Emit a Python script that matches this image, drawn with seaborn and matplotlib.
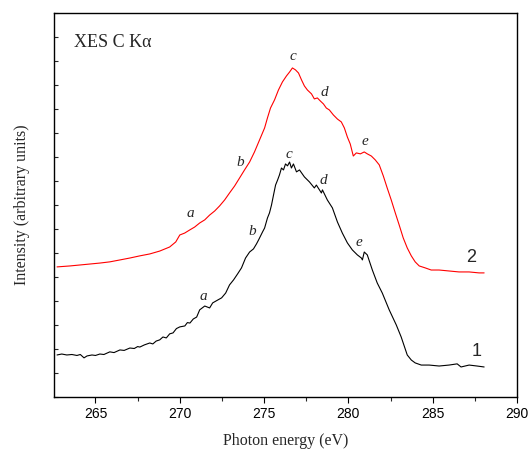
import numpy as np
import pandas as pd
import matplotlib
matplotlib.use("Agg")
import matplotlib.pyplot as plt
import seaborn as sns
from matplotlib.ticker import MultipleLocator

# 曲线 1（黑）：光子能量 / 强度
energy_1 = [262.72, 263.00, 263.30, 263.60, 263.90, 264.10, 264.32, 264.50, 264.79, 265.00,
            265.26, 265.50, 265.85, 266.10, 266.45, 266.70, 267.04, 267.30, 267.50, 267.63,
            267.90, 268.22, 268.40, 268.60, 268.81, 269.00, 269.20, 269.40, 269.60, 269.80,
            270.00, 270.30, 270.45, 270.60, 270.80, 271.00, 271.18, 271.48, 271.77, 271.95,
            272.25, 272.48, 272.72, 272.95, 273.19, 273.43, 273.66, 273.90, 274.14, 274.37,
            274.55, 274.67, 274.79, 274.91, 275.03, 275.20, 275.32, 275.44, 275.56, 275.68,
            275.80, 275.91, 276.03, 276.15, 276.27, 276.39, 276.51, 276.62, 276.74, 276.92,
            277.10, 277.39, 277.69, 277.98, 278.10, 278.40, 278.46, 278.75, 279.05, 279.35,
            279.64, 279.94, 280.23, 280.53, 280.77, 280.83, 280.94, 281.12, 281.42, 281.71,
            282.01, 282.42, 282.84, 283.13, 283.49, 283.73, 283.96, 284.32, 284.79, 285.38,
            285.97, 286.45, 286.68, 287.16, 287.63, 288.05]
intensity_1 = [1.75, 1.79, 1.75, 1.77, 1.73, 1.77, 1.63, 1.71, 1.75, 1.73,
               1.79, 1.77, 1.88, 1.85, 1.96, 1.94, 2.04, 2.02, 2.10, 2.08,
               2.17, 2.25, 2.21, 2.33, 2.38, 2.50, 2.46, 2.63, 2.67, 2.85,
               2.92, 2.96, 3.10, 3.08, 3.25, 3.33, 3.63, 3.79, 3.71, 3.92,
               4.04, 4.13, 4.33, 4.67, 4.88, 5.13, 5.38, 5.79, 6.04, 6.17,
               6.38, 6.54, 6.71, 6.88, 7.04, 7.46, 7.67, 8.00, 8.42, 8.83,
               9.04, 9.25, 9.54, 9.46, 9.71, 9.63, 9.79, 9.54, 9.71, 9.38,
               9.46, 9.17, 8.96, 8.71, 8.83, 8.50, 8.63, 8.21, 7.88, 7.29,
               6.83, 6.42, 6.13, 5.92, 5.79, 5.71, 6.04, 5.92, 5.29, 4.75,
               4.33, 3.63, 3.00, 2.50, 1.75, 1.54, 1.42, 1.33, 1.33, 1.29,
               1.33, 1.38, 1.25, 1.33, 1.29, 1.25]

# 曲线 2（红）
energy_2 = [262.72, 263.49, 264.08, 264.67, 265.26, 265.85, 266.45, 267.04, 267.63, 268.22,
            268.81, 269.40, 269.76, 270.00, 270.29, 270.59, 270.88, 271.18, 271.48, 271.77,
            272.07, 272.36, 272.66, 272.95, 273.25, 273.55, 273.84, 274.14, 274.43, 274.73,
            275.03, 275.20, 275.38, 275.62, 275.85, 276.09, 276.33, 276.51, 276.68, 276.86,
            277.04, 277.22, 277.39, 277.57, 277.81, 277.98, 278.16, 278.34, 278.52, 278.69,
            278.87, 279.11, 279.35, 279.58, 279.76, 279.94, 280.11, 280.29, 280.47, 280.71,
            280.94, 281.12, 281.36, 281.59, 281.83, 282.07, 282.30, 282.54, 282.78, 283.01,
            283.25, 283.49, 283.73, 283.96, 284.20, 284.55, 284.91, 285.38, 285.97, 286.56,
            287.16, 287.75, 288.05]
intensity_2 = [5.42, 5.46, 5.50, 5.54, 5.58, 5.63, 5.71, 5.79, 5.88, 5.96,
               6.08, 6.25, 6.46, 6.75, 6.83, 6.96, 7.08, 7.25, 7.38, 7.58,
               7.75, 7.96, 8.21, 8.50, 8.79, 9.13, 9.46, 9.79, 10.21, 10.71,
               11.21, 11.63, 12.04, 12.38, 12.79, 13.13, 13.38, 13.54, 13.71, 13.63,
               13.50, 13.21, 12.96, 12.79, 12.63, 12.42, 12.46, 12.33, 12.21, 12.04,
               11.96, 11.75, 11.58, 11.46, 11.21, 10.83, 10.54, 10.04, 10.17, 10.13,
               10.21, 10.13, 10.04, 9.88, 9.67, 9.21, 8.71, 8.21, 7.67, 7.17,
               6.63, 6.21, 5.88, 5.63, 5.46, 5.38, 5.29, 5.29, 5.25, 5.21,
               5.21, 5.17, 5.17]

# 峰标记 a-e
peak_names = ['a', 'b', 'c', 'd', 'e']
peak_x_1 = [271.4, 274.3, 276.5, 278.5, 280.6]
peak_y_1 = [4.2, 6.9, 10.1, 9.0, 6.45]
peak_x_2 = [270.65, 273.6, 276.7, 278.6, 281.0]
peak_y_2 = [7.65, 9.75, 14.2, 12.7, 10.65]

sns.set_theme(style="ticks")
plt.rcParams['font.family'] = ['Liberation Sans', 'DejaVu Sans']

fig = plt.figure(figsize=(5.3, 4.54), dpi=100)
ax = fig.add_axes([0.1019, 0.1256, 0.8736, 0.8458])

df1 = pd.DataFrame({'energy': energy_1, 'intensity': intensity_1})
df2 = pd.DataFrame({'energy': energy_2, 'intensity': intensity_2})
sns.lineplot(data=df1, x='energy', y='intensity', color='black', linewidth=0.8, ax=ax)
sns.lineplot(data=df2, x='energy', y='intensity', color='#ff0000', linewidth=0.8, ax=ax)

ax.set_xlim(262.54, 290)
ax.set_ylim(0, 16)
ax.xaxis.set_major_locator(MultipleLocator(5))
ax.xaxis.set_minor_locator(MultipleLocator(2.5))
ax.yaxis.set_major_locator(MultipleLocator(1))
ax.set_yticklabels([])
ax.tick_params(axis='x', which='major', direction='out', length=4, width=0.8, labelsize=10, colors='black')
ax.tick_params(axis='x', which='minor', direction='out', length=3, width=0.8)
ax.tick_params(axis='y', which='major', direction='in', length=3, width=0.8)
for s in ax.spines.values():
    s.set_visible(True)
    s.set_color('black')
    s.set_linewidth(1.0)

serif = ['Liberation Serif', 'DejaVu Serif']
ax.set_xlabel('Photon energy (eV)', family=serif, fontsize=11.5, labelpad=8)
ax.set_ylabel('Intensity (arbitrary units)', family=serif, fontsize=11.5, labelpad=14)

ax.text(263.7, 14.75, 'XES C K\u03b1', family=serif, fontsize=13, va='center', ha='left')
for n, x, y in zip(peak_names, peak_x_1, peak_y_1):
    ax.text(x, y, n, family=serif, style='italic', fontsize=11, ha='center', va='center')
for n, x, y in zip(peak_names, peak_x_2, peak_y_2):
    ax.text(x, y, n, family=serif, style='italic', fontsize=11, ha='center', va='center')
ax.text(287.6, 1.9, '1', fontsize=13, ha='center', va='center')
ax.text(287.3, 5.8, '2', fontsize=13, ha='center', va='center')

fig.savefig('out.png', dpi=100)
